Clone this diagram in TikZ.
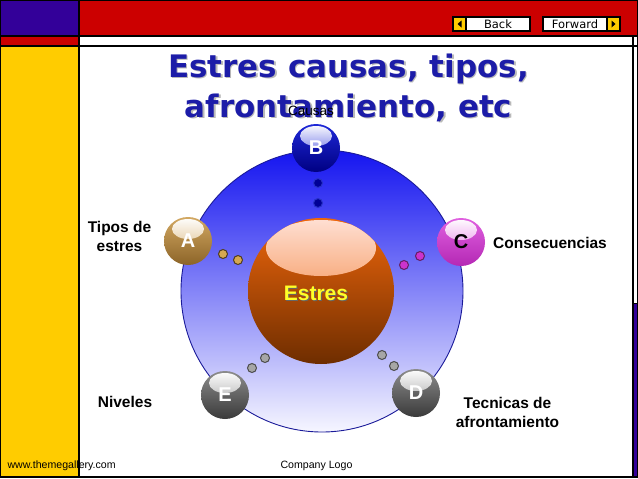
\documentclass[tikz,border=0pt]{standalone}
\usepackage{fontspec}
\setmainfont{Liberation Sans}
\newfontfamily\titlefont{DejaVu Sans}
\definecolor{cpurple}{HTML}{330099}
\definecolor{cred}{HTML}{CC0000}
\definecolor{cyellow}{HTML}{FFCC00}
\definecolor{ctitle}{HTML}{1C1CA8}
\definecolor{cring}{HTML}{1A1A99}
\definecolor{ringtop}{HTML}{1414F0}
\definecolor{ringmid}{HTML}{8282FF}
\definecolor{ringbot}{HTML}{F6F6FF}
\definecolor{bdotfill}{HTML}{000096}
\definecolor{bdotdraw}{HTML}{2832C8}
\definecolor{adotfill}{HTML}{D6A850}
\definecolor{adotdraw}{HTML}{503C1E}
\definecolor{cdotfill}{HTML}{CC33CC}
\definecolor{cdotdraw}{HTML}{641E64}
\definecolor{sphtop}{HTML}{EE660C}
\definecolor{sphbot}{HTML}{6E2D00}
\definecolor{sphhl}{HTML}{FFE0D4}
\definecolor{estyellow}{HTML}{FFFF28}
\definecolor{btop}{HTML}{1E28D8}
\definecolor{bbot}{HTML}{000082}
\definecolor{atop}{HTML}{D2A862}
\definecolor{abot}{HTML}{8C6428}
\definecolor{ctop}{HTML}{E060E0}
\definecolor{cbot}{HTML}{B428B4}
\definecolor{gtop}{HTML}{8C8C8C}
\definecolor{gbot}{HTML}{3A3A3A}
\begin{document}
\begin{tikzpicture}[x=1pt,y=-1pt,
  frameline/.style={draw=black, line width=1.6pt},
  btnbox/.style={draw=black, line width=1.4pt, fill=white, minimum height=14pt, inner sep=0pt, font=\titlefont\fontsize{11.5}{11.5}\selectfont},
  arrbox/.style={draw=black, line width=1.2pt, fill=cyellow, minimum width=13pt, minimum height=14pt, inner sep=0pt},
  ballstyle/.style 2 args={circle, minimum size=48pt, inner sep=0pt, font=\bfseries\fontsize{20}{20}\selectfont,
    top color=#1, bottom color=#2,
    path picture={\shade[top color=white, bottom color=#1] ([yshift=-12pt]path picture bounding box.north) ellipse (16pt and 10pt);}},
  dot/.style={circle, minimum size=9pt, inner sep=0pt, line width=1pt},
  lbl/.style={font=\bfseries\fontsize{15.5}{19}\selectfont, align=center, text=black},
  foot/.style={font=\fontsize{10.6}{12}\selectfont, text=black},
  titlestyle/.style={font=\titlefont\bfseries\fontsize{31}{40}\selectfont, align=center}
]
\useasboundingbox (0,0) rectangle (638,479);
\fill[white] (0,0) rectangle (638,479);
% frame
\fill[cpurple] (0,0) rectangle (79,36);
\fill[cred] (79,0) rectangle (638,36);
\fill[cred] (0,36) rectangle (79,46);
\fill[cyellow] (0,46) rectangle (79,477);
\fill[cpurple] (633,303) rectangle (638,477);
\draw[frameline] (0,0) rectangle (638,477);
\draw[frameline] (0,36) -- (638,36);
\draw[frameline] (0,46) -- (638,46);
\draw[frameline] (79,0) -- (79,477);
\draw[frameline] (633,36) -- (633,477);
\draw[draw=black, line width=0.8pt] (633,303) -- (638,303);

% buttons
\node[arrbox] (backarr) at (459.5,24) {};
\node[btnbox, minimum width=64pt] (back) at (498,24) {Back};
\fill[black] ([xshift=2pt,yshift=3.5pt]backarr.center) -- ([xshift=2pt,yshift=-3.5pt]backarr.center) -- ([xshift=-2pt]backarr.center) -- cycle;
\node[btnbox, minimum width=64pt] (fwd) at (575,24) {Forward};
\node[arrbox] (fwdarr) at (613.5,24) {};
\fill[black] ([xshift=-2pt,yshift=3.5pt]fwdarr.center) -- ([xshift=-2pt,yshift=-3.5pt]fwdarr.center) -- ([xshift=2pt]fwdarr.center) -- cycle;

% big ring
\node[circle, minimum size=282pt, inner sep=0pt, draw=cring, line width=0.9pt,
  top color=ringtop, middle color=ringmid, bottom color=ringbot] (ring) at (322,291) {};

% dots
\node[dot, fill=bdotfill, draw=bdotdraw] (b1) at (318,183) {};
\node[dot, fill=bdotfill, draw=bdotdraw] (b2) at (318,203) {};
\node[dot, fill=adotfill, draw=adotdraw] (a1) at (223,254) {};
\node[dot, fill=adotfill, draw=adotdraw] (a2) at (238,260) {};
\node[dot, fill=cdotfill, draw=cdotdraw] (c1) at (404,265) {};
\node[dot, fill=cdotfill, draw=cdotdraw] (c2) at (420,256) {};
\node[dot, fill=gray!70, draw=black!70] (e1) at (252,368) {};
\node[dot, fill=gray!70, draw=black!70] (e2) at (265,358) {};
\node[dot, fill=gray!70, draw=black!70] (d1) at (382,355) {};
\node[dot, fill=gray!70, draw=black!70] (d2) at (394,366) {};

% central sphere
\node[circle, minimum size=146pt, inner sep=0pt,
  top color=sphtop, bottom color=sphbot,
  path picture={\shade[top color=sphhl, bottom color=sphtop] ([yshift=-30pt]path picture bounding box.north) ellipse (55pt and 28pt);}] (S) at (321,291) {};
\node[font=\bfseries\fontsize{21}{21}\selectfont, text=black!60] at (317,294) {Estres};
\node[font=\bfseries\fontsize{21}{21}\selectfont, text=estyellow] (Stext) at (316,293) {Estres};

% balls
\node[ballstyle={btop}{bbot}, text=white] (B) at (316,148) {B};
\node[ballstyle={atop}{abot}, text=white] (A) at (188,241) {A};
\node[ballstyle={ctop}{cbot}, text=black] (C) at (461,242) {C};
\node[ballstyle={gtop}{gbot}, text=white] (E) at (225,395) {E};
\node[ballstyle={gtop}{gbot}, text=white] (D) at (416,393) {D};

% title
\node[titlestyle, text=gray!55] at (350,89) {Estres causas, tipos,\\afrontamiento, etc};
\node[titlestyle, text=ctitle] (title) at (348.5,87.5) {Estres causas, tipos,\\afrontamiento, etc};

% labels
\node[font=\fontsize{13.5}{14}\selectfont, text=black] (lB) at (311,111) {Causas};
\node[lbl] (lA) at (119.5,236) {Tipos de\\estres};
\node[lbl] (lC) at (550,243) {Consecuencias};
\node[lbl] (lE) at (125,402) {Niveles};
\node[lbl] (lD) at (507.5,412) {Tecnicas de\\afrontamiento};

% footer
\node[foot, anchor=west] (url) at (4,466) {www.themegallery.com};
\node[foot] (logo) at (316.5,466) {Company Logo};
\end{tikzpicture}
\end{document}
